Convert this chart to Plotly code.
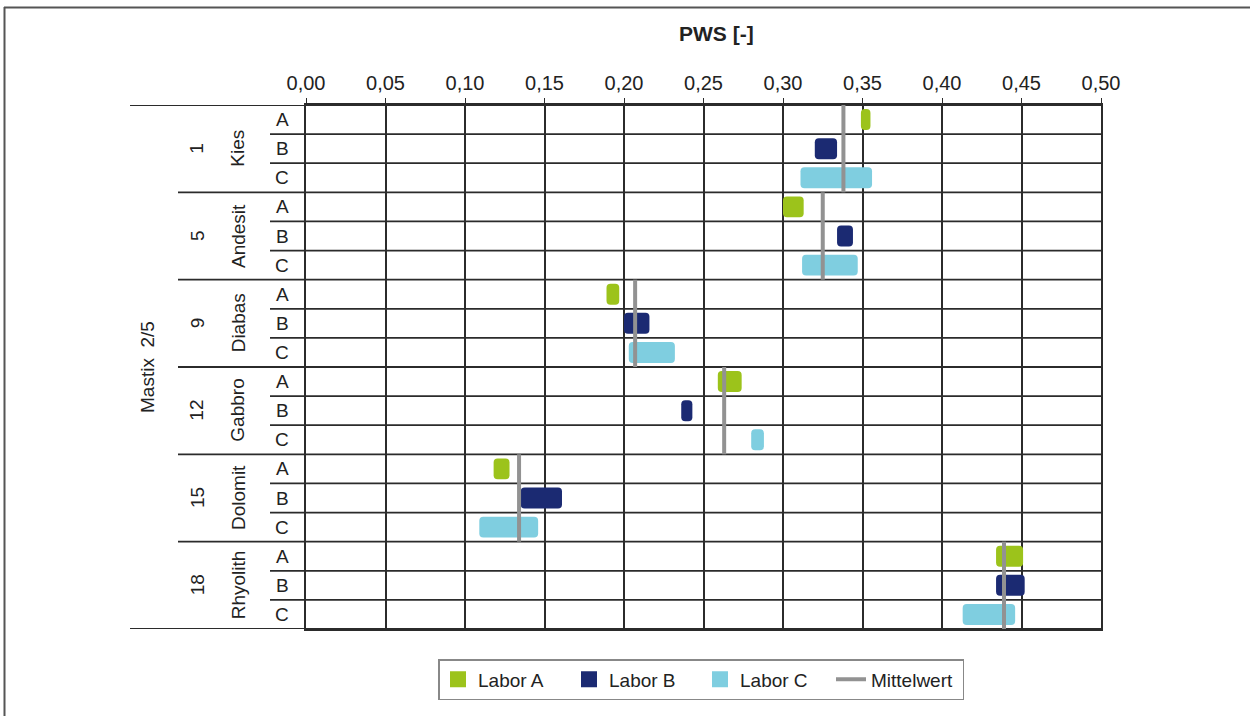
import plotly.graph_objects as go

# ---------------- data ----------------
groups = ["1", "5", "9", "12", "15", "18"]
materials = ["Kies", "Andesit", "Diabas", "Gabbro", "Dolomit", "Rhyolith"]
sub_labels = ["A", "B", "C"]
y_title = "Mastix  2/5"
x_title = "PWS [-]"

labor_a_min = [0.349, 0.300, 0.189, 0.259, 0.118, 0.434]
labor_a_max = [0.355, 0.313, 0.197, 0.274, 0.128, 0.451]
labor_b_min = [0.320, 0.334, 0.200, 0.236, 0.135, 0.434]
labor_b_max = [0.334, 0.344, 0.216, 0.243, 0.161, 0.452]
labor_c_min = [0.311, 0.312, 0.203, 0.280, 0.109, 0.413]
labor_c_max = [0.356, 0.347, 0.232, 0.288, 0.146, 0.446]
mittelwert = [0.338, 0.325, 0.207, 0.263, 0.134, 0.439]

x_ticks = [0.00, 0.05, 0.10, 0.15, 0.20, 0.25, 0.30, 0.35, 0.40, 0.45, 0.50]

colors = {"A": "#9CC31B", "B": "#1B2A72", "C": "#7FCEE0"}
mean_color = "#929292"
line_color = "#2b2b2b"
text_color = "#222222"

# ---------------- layout geometry (pixels) ----------------
W, H = 1250, 716
L, R, T, B = 306, 1101, 105, 629
pw, ph = R - L, B - T


def px_x(p):
    return (p - L) / pw


def px_y(p):
    return (B - p) / ph


fig = go.Figure()

series = [
    ("Labor A", labor_a_min, labor_a_max, 0, colors["A"]),
    ("Labor B", labor_b_min, labor_b_max, 1, colors["B"]),
    ("Labor C", labor_c_min, labor_c_max, 2, colors["C"]),
]
for name, mins, maxs, off, col in series:
    fig.add_trace(go.Bar(
        name=name,
        orientation="h",
        y=[g * 3 + off for g in range(len(groups))],
        base=mins,
        x=[b - a for a, b in zip(mins, maxs)],
        marker=dict(color=col, line=dict(width=0)),
        width=0.72,
        hoverinfo="skip",
        showlegend=False,
        legendgroup=name,
    ))
    # legend entry with a larger square symbol
    fig.add_trace(go.Scatter(
        name=name, x=[None], y=[None], mode="markers",
        marker=dict(symbol="square", size=16, color=col),
        legendgroup=name, showlegend=True, hoverinfo="skip",
    ))

mx, my = [], []
for g, m in enumerate(mittelwert):
    mx += [m, m, None]
    my += [g * 3 - 0.5, g * 3 + 2.5, None]
fig.add_trace(go.Scatter(
    name="Mittelwert", x=mx, y=my, mode="lines",
    line=dict(color=mean_color, width=4), hoverinfo="skip",
))

shapes = []
n_rows = len(groups) * 3
for k in range(n_rows + 1):
    if k == 0 or k == n_rows:
        x0 = px_x(130)
    elif k % 3 == 0:
        x0 = px_x(178)
    else:
        x0 = px_x(270)
    shapes.append(dict(type="line", xref="paper", yref="y", x0=x0, x1=1,
                       y0=k - 0.5, y1=k - 0.5, layer="below",
                       line=dict(color=line_color, width=1.8)))
# frame of figure (top and left)
shapes.append(dict(type="line", xref="paper", yref="paper",
                   x0=px_x(4), x1=px_x(1250), y0=px_y(7.5), y1=px_y(7.5),
                   line=dict(color="#555555", width=2)))
shapes.append(dict(type="line", xref="paper", yref="paper",
                   x0=px_x(4.5), x1=px_x(4.5), y0=px_y(7), y1=px_y(720),
                   line=dict(color="#555555", width=2)))

annotations = []
font = "Liberation Sans, Arial, sans-serif"
fs = 19


def label(text, x, y, yref="y", angle=0, size=fs):
    return dict(text=text, xref="paper", yref=yref, x=x, y=y, textangle=angle,
                xanchor="center", yanchor="middle", showarrow=False,
                font=dict(size=size, color=text_color, family=font))


for g in range(len(groups)):
    for j, s in enumerate(sub_labels):
        annotations.append(label(s, px_x(282), g * 3 + j))
    annotations.append(label(materials[g], px_x(238), g * 3 + 1, angle=-90))
    annotations.append(label(groups[g], px_x(197), g * 3 + 1, angle=-90))
annotations.append(label(y_title, px_x(147), (n_rows - 1) / 2, angle=-90))
annotations.append(label("<b>" + x_title + "</b>", px_x(716), px_y(33), yref="paper", size=21))

fig.update_layout(
    width=W, height=H,
    margin=dict(l=L, r=W - R, t=T, b=H - B),
    paper_bgcolor="white", plot_bgcolor="white",
    barmode="overlay",
    barcornerradius=4,
    separators=",.",
    showlegend=True,
    legend=dict(orientation="h", x=px_x(701), xanchor="center", y=px_y(659), yanchor="top",
                bordercolor="#888888", borderwidth=1.5, bgcolor="white",
                font=dict(size=fs, color=text_color, family=font),
                itemwidth=30, entrywidth=86, tracegroupgap=0, itemsizing="trace"),
    shapes=shapes,
    annotations=annotations,
    font=dict(family=font, color=text_color),
)

fig.update_xaxes(
    side="top", range=[0, 0.5], tickvals=x_ticks, tickformat=".2f",
    showgrid=True, gridcolor=line_color, gridwidth=1.8,
    showline=True, linecolor=line_color, linewidth=1.8, mirror=True,
    ticks="outside", ticklen=5, tickcolor=line_color, tickwidth=1.2,
    tickfont=dict(size=20, color=text_color, family=font),
    zeroline=False, fixedrange=True,
)
fig.update_yaxes(
    range=[n_rows - 0.5, -0.5], showticklabels=False, showgrid=False,
    showline=True, linecolor=line_color, linewidth=1.8, mirror=True,
    zeroline=False, ticks="", fixedrange=True,
)

fig.write_html("out.html", config={"displayModeBar": False},
               post_script="document.body.style.margin='0px';")
